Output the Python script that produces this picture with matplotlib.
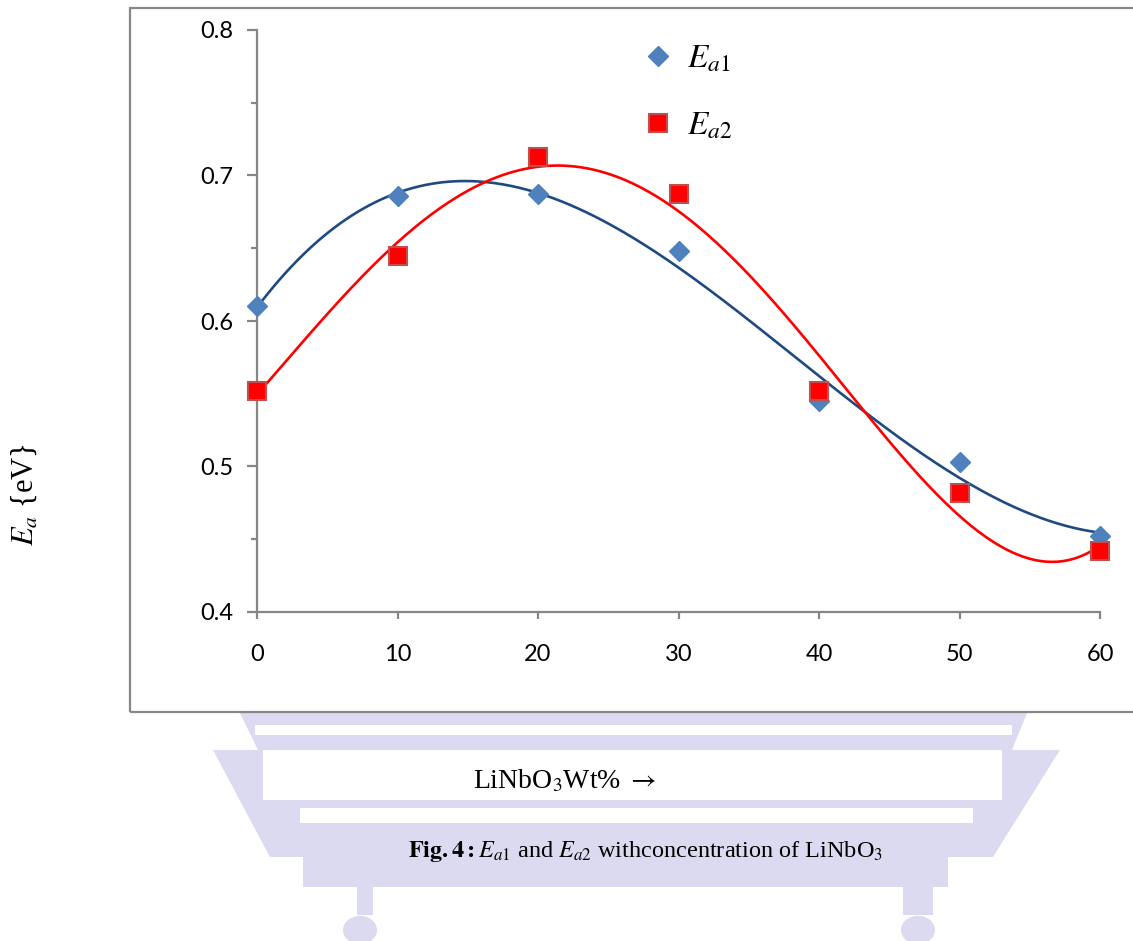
import numpy as np
import matplotlib
matplotlib.use("Agg")
import matplotlib.pyplot as plt
from matplotlib.patches import Polygon, Rectangle, Circle

# LiNbO3 wt% and activation energies (eV)
wt = [0, 10, 20, 30, 40, 50, 60]
ea1 = [0.610, 0.686, 0.687, 0.648, 0.545, 0.503, 0.452]
ea2 = [0.552, 0.645, 0.713, 0.687, 0.552, 0.482, 0.442]

W, H = 1133, 941
plt.rcParams['mathtext.fontset'] = 'stix'

fig = plt.figure(figsize=(W / 100, H / 100), dpi=100)


def px(x, y):
    # pixel position (from top-left) -> figure fraction
    return (x / W, 1 - y / H)


# faint lamp watermark behind the lower part of the page
lav = '#dbdaf0'
body = [(240, 713), (1027, 713), (1012, 750), (1060, 750), (993, 857),
        (270, 857), (213, 750), (258, 750)]
fig.patches.append(Polygon([px(*p) for p in body], closed=True, fc=lav, ec='none',
                           transform=fig.transFigure, zorder=0))
for x0, y0, x1, y1 in [(255, 725, 1012, 735), (263, 750, 1002, 800), (300, 808, 973, 823)]:
    fig.patches.append(Rectangle(px(x0, y1), (x1 - x0) / W, (y1 - y0) / H, fc='white',
                                 ec='none', transform=fig.transFigure, zorder=0))
fig.patches.append(Rectangle(px(303, 887), (948 - 303) / W, 30 / H, fc=lav, ec='none',
                             transform=fig.transFigure, zorder=0))
for cx, sx0, sx1 in [(360, 357, 373), (918, 903, 933)]:
    fig.patches.append(Rectangle(px(sx0, 915), (sx1 - sx0) / W, 30 / H, fc=lav, ec='none',
                                 transform=fig.transFigure, zorder=0))
    fig.patches.append(Circle(px(cx, 930), 17 / W, fc=lav, ec='none',
                              transform=fig.transFigure, zorder=0))

# chart area border (runs off the right edge)
fig.patches.append(Rectangle(px(130, 712), 1.2, (712 - 8) / H, fill=False, ec='#878787',
                             lw=1.6, transform=fig.transFigure, zorder=1))

ax = fig.add_axes([257 / W, 1 - 612 / H, 843 / W, 582 / H])
ax.patch.set_alpha(0)

# polynomial trend lines, as in the original spreadsheet
xs = np.linspace(0, 60, 300)
p1 = np.polyfit(wt, ea1, 3)
p2 = np.polyfit(wt, ea2, 4)
ax.plot(xs, np.polyval(p1, xs), color='#1f4a80', lw=1.9, zorder=2)
ax.plot(xs, np.polyval(p2, xs), color='#ff0000', lw=1.9, zorder=2)

ax.plot(wt, ea1, ls='none', marker='D', ms=10.5, mfc='#4f81bd', mec='#4f81bd',
        clip_on=False, zorder=3, label=r'$E_{a1}$')
ax.plot(wt, ea2, ls='none', marker='s', ms=13, mfc='#ff0000', mec='#c0504d', mew=1.5,
        clip_on=False, zorder=4, label=r'$E_{a2}$')

ax.set_xlim(0, 60)
ax.set_ylim(0.4, 0.8)
ax.set_xticks(np.arange(0, 61, 10))
ax.set_yticks([0.4, 0.5, 0.6, 0.7, 0.8])
ax.set_yticks(np.arange(0.45, 0.8, 0.1), minor=True)
ax.set_yticklabels(['0.4', '0.5', '0.6', '0.7', '0.8'])
for s in ['top', 'right']:
    ax.spines[s].set_visible(False)
for s in ['left', 'bottom']:
    ax.spines[s].set_color('#868686')
    ax.spines[s].set_linewidth(1.6)
ax.tick_params(axis='both', colors='#868686', width=1.6, labelcolor='black',
               labelsize=17, labelfontfamily='Lato')
ax.tick_params(axis='y', which='major', length=7, pad=10)
ax.tick_params(axis='y', which='minor', length=4, width=1.6, colors='#868686')
ax.tick_params(axis='x', length=5, pad=18)

ax.legend(loc='upper left', bbox_to_anchor=px(641, 42), bbox_transform=fig.transFigure,
          frameon=False, fontsize=24, handlelength=1.0, handletextpad=0.38,
          labelspacing=1.0, borderpad=0, borderaxespad=0)

fig.text(*px(25, 495), r'$E_a$ {eV}', rotation=90, ha='center', va='center',
         family='Liberation Serif', fontsize=22)
fig.text(*px(565, 781), r'LiNbO$_3$Wt% $\rightarrow$', ha='center', va='center',
         family='Liberation Serif', fontsize=20, zorder=5)
fig.text(*px(646, 852), r'$\mathbf{Fig.4{:}}$$E_{a1}$ and $E_{a2}$ withconcentration of LiNbO$_3$',
         ha='center', va='center', family='Liberation Serif', fontsize=17.5, zorder=5)

fig.savefig('out.png', dpi=100)
